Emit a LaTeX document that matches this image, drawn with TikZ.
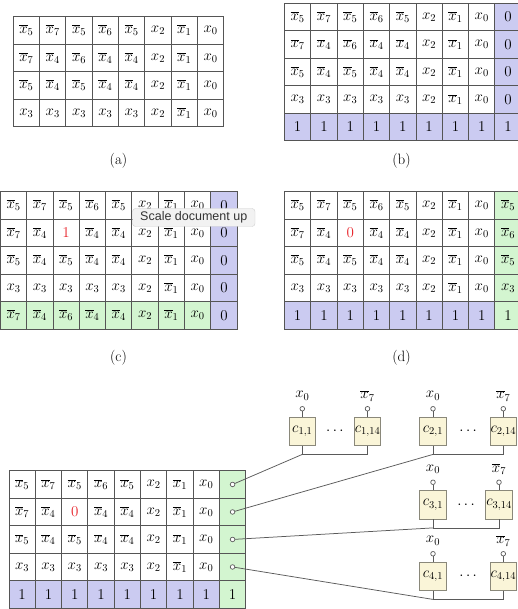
\documentclass[tikz,border=0pt]{standalone}
\usepackage{fix-cm}
\usepackage[no-math]{fontspec}
\newfontfamily\tipfont{Liberation Sans}
\usetikzlibrary{calc}
\definecolor{gridc}{HTML}{555555}
\definecolor{bluc}{HTML}{CBCBF1}
\definecolor{grnc}{HTML}{D3F5D0}
\definecolor{yelc}{HTML}{FAF5D8}
\definecolor{boxc}{HTML}{8A887A}
\definecolor{connc}{HTML}{5A5A5A}
\definecolor{redc}{HTML}{E8232A}
\definecolor{tipf}{HTML}{F2F2F2}
\definecolor{tipb}{HTML}{CFCFCF}
\definecolor{tipt}{HTML}{333333}
\newcommand\cellfont{\fontsize{15}{18}\selectfont}
\newcommand\ob[1]{\overline{x}_{#1}}
\newcommand\xx[1]{x_{#1}}
\newcommand\rd[1]{{\color{redc}#1}}
\def\cw{26.3}
\def\ch{27.5}
\def\rowA{\ob5,\ob7,\ob5,\ob6,\ob5,\xx2,\ob1,\xx0}
\def\rowB{\ob7,\ob4,\ob6,\ob4,\ob4,\xx2,\ob1,\xx0}
\def\rowBone{\ob7,\ob4,\rd1,\ob4,\ob4,\xx2,\ob1,\xx0}
\def\rowBzero{\ob7,\ob4,\rd0,\ob4,\ob4,\xx2,\ob1,\xx0}
\def\rowC{\ob5,\ob4,\ob5,\ob4,\ob4,\xx2,\ob1,\xx0}
\def\rowD{\xx3,\xx3,\xx3,\xx3,\xx3,\xx2,\ob1,\xx0}
% #1 style, #2 prefix, #3 X, #4 Y, #5 row, #6 list
\newcommand\cellrow[6][wht]{%
  \foreach \c [count=\i] in #6 {%
    \node[cell,#1] (#2-#5-\i) at ({#3+(\i-0.5)*\cw},{#4+(#5-0.5)*\ch}) {$\c$};
  }}
% #1 prefix, #2 X, #3 Y, #4 row, #5 col, #6 style, #7 content
\newcommand\onecell[7]{%
  \node[cell,#6] (#1-#4-#5) at ({#2+(#5-0.5)*\cw},{#3+(#4-0.5)*\ch}) {#7};}
% #1 prefix, #2 X, #3 Y, #4 row-2 list
\newcommand\basepanel[4]{%
  \cellrow{#1}{#2}{#3}{1}{\rowA}
  \cellrow{#1}{#2}{#3}{2}{#4}
  \cellrow{#1}{#2}{#3}{3}{\rowC}
  \cellrow{#1}{#2}{#3}{4}{\rowD}}
\tikzset{
  cell/.style={draw=gridc, line width=0.9pt, minimum width=\cw pt, minimum height=\ch pt,
    inner sep=0pt, outer sep=0pt, font=\cellfont},
  wht/.style={fill=white},
  blu/.style={fill=bluc},
  grn/.style={fill=grnc},
  lab/.style={font=\cellfont, inner sep=0pt},
  cbox/.style={draw=boxc, fill=yelc, line width=0.8pt, minimum width=26.7pt,
    minimum height=28.5pt, inner sep=0pt, font=\cellfont},
  port/.style={circle, draw=connc, fill=white, line width=0.7pt, inner sep=0pt, minimum size=4.6pt},
  conn/.style={draw=connc, line width=0.75pt},
  plain/.style={inner sep=0pt, font=\cellfont},
  tip/.style={draw=tipb, fill=tipf, rounded corners=3pt, minimum width=122.5pt,
    minimum height=18pt, inner sep=0pt, text=tipt, font=\tipfont\fontsize{12.5}{14}\selectfont}
}
\begin{document}
\begin{tikzpicture}[x=1pt,y=-1pt]
\useasboundingbox (0,0) rectangle (518,609);
% (a)
\basepanel{a}{13.3}{16.7}{\rowB}
\node[lab] (la) at (118.5,160.5) {(a)};
% (b)
\basepanel{b}{284.5}{3.3}{\rowB}
\foreach \r in {1,...,4} {\onecell{b}{284.5}{3.3}{\r}{9}{blu}{$0$}}
\foreach \k in {1,...,9} {\onecell{b}{284.5}{3.3}{5}{\k}{blu}{$1$}}
\node[lab] (lb) at (401.5,160.5) {(b)};
% (c)
\basepanel{c}{0.4}{191.7}{\rowBone}
\cellrow[grn]{c}{0.4}{191.7}{5}{\rowB}
\foreach \r in {1,...,5} {\onecell{c}{0.4}{191.7}{\r}{9}{blu}{$0$}}
\node[lab] (lc) at (118.5,358) {(c)};
% (d)
\basepanel{d}{284.5}{191.7}{\rowBzero}
\foreach \k in {1,...,8} {\onecell{d}{284.5}{191.7}{5}{\k}{blu}{$1$}}
\onecell{d}{284.5}{191.7}{1}{9}{grn}{$\ob5$}
\onecell{d}{284.5}{191.7}{2}{9}{grn}{$\ob6$}
\onecell{d}{284.5}{191.7}{3}{9}{grn}{$\ob5$}
\onecell{d}{284.5}{191.7}{4}{9}{grn}{$\xx3$}
\onecell{d}{284.5}{191.7}{5}{9}{grn}{$1$}
\node[lab] (ld) at (401.5,358) {(d)};
% (e)
\basepanel{e}{9}{470.7}{\rowBzero}
\foreach \k in {1,...,8} {\onecell{e}{9}{470.7}{5}{\k}{blu}{$1$}}
\foreach \r in {1,...,4} {\onecell{e}{9}{470.7}{\r}{9}{grn}{}}
\onecell{e}{9}{470.7}{5}{9}{grn}{$1$}
% circuit groups
\foreach \g/\ax/\bx/\cy in {1/302.3/367.5/431.25, 2/433/503.3/431.25, 3/433/499/504.75, 4/433/503.3/576.25} {
  \node[cbox] (g\g-a) at (\ax,\cy) {$c_{\g,1}$};
  \node[cbox] (g\g-b) at (\bx,\cy) {$c_{\g,14}$};
  \node[plain] (g\g-d) at ({(\ax+\bx)/2},\cy) {$\cdots$};
  \node[port] (g\g-ai) at (\ax,\cy-22.5) {};
  \node[port] (g\g-bi) at (\bx,\cy-22.5) {};
  \node[plain] (g\g-al) at (\ax,\cy-35.5) {$\xx0$};
  \node[plain] (g\g-bl) at (\bx,\cy-35.5) {$\ob7$};
  \draw[conn] (g\g-ai) -- (g\g-a);
  \draw[conn] (g\g-bi) -- (g\g-b);
  \coordinate (g\g-j) at ($(g\g-a.south)+(0,8.5)$);
  \draw[conn] (g\g-a.south) -- (g\g-j) -| (g\g-b.south);
  \node[port] (e-p\g) at (e-\g-9.center) {};
  \draw[conn] (e-p\g) -- (g\g-j);
}
% tooltip overlay
\node[tip] (tip) at (193.75,217.5) {Scale document up};
\end{tikzpicture}
\end{document}
